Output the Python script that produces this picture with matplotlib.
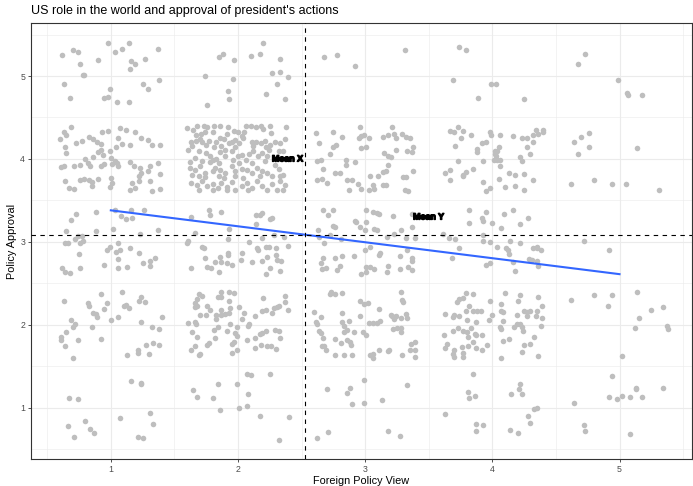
import matplotlib
matplotlib.use("Agg")
import matplotlib.pyplot as plt
import matplotlib.patheffects as pe
import numpy as np

# ---------------- data ----------------
title = "US role in the world and approval of president's actions"
x_label = "Foreign Policy View"
y_label = "Policy Approval"
x_ticks = [1, 2, 3, 4, 5]
y_ticks = [1, 2, 3, 4, 5]

# jittered responses, grouped by approval row (approval value ~5,4,3,2,1)
row5 = [(0.62,5.25),(0.70,5.31),(0.74,5.29),(0.76,5.15),(0.78,5.01),(0.79,5.01),(0.63,4.90),(0.68,4.74),
        (0.90,5.19),(0.98,5.40),(1.03,5.29),(0.99,4.84),(0.95,4.73),(0.98,4.75),(1.05,4.69),(1.09,5.33),
        (1.14,5.40),(1.16,5.18),(1.19,5.15),(1.15,5.09),(1.27,5.21),(1.37,5.33),(1.25,4.90),(1.29,4.84),
        (1.38,4.95),(1.14,4.69),
        (1.85,5.23),(1.88,5.26),(1.97,5.19),(1.74,5.00),(1.96,4.97),(1.92,4.82),(1.93,4.72),(1.76,4.65),
        (2.10,5.24),(2.17,5.26),(2.20,5.40),(2.33,5.20),(2.27,5.04),(2.33,5.05),(2.39,4.99),(2.31,4.90),
        (2.22,4.78),(2.37,4.72),
        (2.68,5.23),(2.78,5.25),(2.92,5.12),(3.31,5.31),
        (3.74,5.35),(3.79,5.31),(3.69,4.95),(3.89,4.73),(3.99,4.90),(4.03,4.91),(4.25,4.72),
        (4.73,5.27),(4.67,5.14),(4.99,4.95),(5.06,4.80),(5.07,4.77),(5.18,4.77)]

row4 = [(0.69,4.39),(0.63,4.32),(0.65,4.29),(0.60,4.24),(0.64,4.15),(0.65,4.07),(0.73,4.19),(0.77,4.22),
        (0.83,4.27),(0.86,4.24),(0.89,4.20),(0.93,4.32),(0.98,4.34),(1.07,4.37),(1.12,4.35),(1.19,4.33),
        (1.06,4.25),(1.24,4.25),(1.29,4.23),(1.32,4.17),(1.39,4.17),(1.15,4.17),(1.09,4.18),(1.04,4.15),
        (0.99,4.09),(0.92,4.18),(0.92,4.11),(0.90,4.08),(0.94,4.05),(1.00,4.01),(1.03,3.98),(0.86,4.02),
        (0.82,3.95),(0.84,3.92),(0.80,4.00),(0.76,3.93),(0.71,3.91),(0.61,3.90),(0.63,3.91),(0.92,3.92),
        (0.95,3.94),(1.01,3.94),(1.05,3.95),(1.06,3.92),(1.15,3.96),(1.18,3.91),(1.23,3.89),(1.37,3.95),
        (1.29,3.86),(1.24,3.83),(1.22,3.80),(1.17,3.71),(1.19,3.65),(1.22,3.73),(1.31,3.73),(1.32,3.61),
        (1.39,3.64),(1.39,3.82),(1.31,3.91),(0.64,3.73),(0.67,3.65),(0.71,3.64),(0.76,3.75),(0.79,3.76),
        (0.83,3.74),(0.85,3.72),(0.90,3.76),(1.00,3.77),(1.01,3.71),(0.99,3.66),(0.85,3.67),(1.15,3.63),
        # approval 4, view 2
        (1.60,4.37),(1.65,4.35),(1.68,4.40),(1.73,4.40),(1.76,4.39),(1.81,4.40),(1.86,4.40),(1.92,4.39),
        (1.97,4.34),(2.00,4.33),(2.06,4.40),(2.10,4.40),(2.14,4.39),(2.18,4.40),(2.20,4.36),(2.25,4.40),
        (2.26,4.31),(2.38,4.39),(2.05,4.33),(2.03,4.28),(1.67,4.29),(1.71,4.30),(1.74,4.32),(1.80,4.32),
        (1.91,4.30),(1.63,4.20),(1.67,4.22),(1.70,4.24),(1.72,4.21),(1.77,4.22),(1.83,4.21),(1.86,4.25),
        (1.89,4.24),(1.93,4.19),(1.95,4.21),(1.98,4.23),(2.01,4.19),(2.04,4.25),(2.11,4.20),(2.14,4.21),
        (2.18,4.19),(2.21,4.22),(2.25,4.17),(2.29,4.21),(2.33,4.19),(2.37,4.24),(1.64,4.16),(1.75,4.17),
        (1.81,4.15),(1.87,4.16),(1.98,4.15),(2.12,4.16),(2.22,4.14),(1.61,4.11),(1.69,4.09),(1.75,4.07),
        (1.78,4.03),(1.80,3.99),(1.83,4.00),(1.78,3.96),(1.72,3.97),(1.66,4.01),(1.62,3.96),(1.86,4.08),
        (1.90,4.11),(1.95,4.09),(1.96,3.99),(2.00,4.03),(2.03,4.05),(2.06,3.99),(2.09,4.06),(2.12,4.10),
        (2.16,4.03),(2.19,4.07),(2.23,4.03),(2.21,3.97),(2.11,3.95),(2.01,3.95),(1.90,4.03),(1.85,3.95),
        (2.32,4.10),(2.30,4.00),(2.35,4.09),(2.24,4.11),(1.62,3.89),(1.66,3.87),(1.70,3.91),(1.74,3.83),
        (1.80,3.85),(1.82,3.89),(1.86,3.87),(1.90,3.83),(1.95,3.91),(1.98,3.85),(2.03,3.88),(2.07,3.87),
        (2.11,3.83),(2.15,3.89),(2.19,3.85),(2.23,3.83),(2.32,3.88),(2.35,3.81),(2.29,3.93),(1.64,3.81),
        (1.69,3.79),(1.74,3.78),(1.85,3.79),(1.89,3.77),(1.98,3.79),(2.04,3.77),(2.17,3.79),(2.27,3.79),
        (2.33,3.79),(1.63,3.71),(1.68,3.69),(1.72,3.73),(1.76,3.67),(1.80,3.70),(1.84,3.65),(1.87,3.71),
        (1.91,3.66),(1.95,3.72),(1.98,3.63),(2.03,3.67),(2.07,3.71),(2.11,3.65),(2.15,3.73),(2.19,3.67),
        (2.23,3.63),(2.27,3.70),(2.31,3.63),(2.35,3.63),(2.37,3.69),(1.69,3.63),(1.80,3.63),(1.91,3.62),
        (2.08,3.62),(2.33,3.73),
        # approval 4, view 3
        (2.61,4.31),(2.64,4.19),(2.75,4.33),(2.82,4.27),(2.96,4.39),(2.97,4.28),(2.99,4.29),(3.03,4.25),
        (2.95,4.25),(2.97,4.13),(3.01,4.14),(2.77,4.17),(2.75,4.15),(2.72,4.06),(2.85,3.99),(2.85,3.93),
        (2.92,3.96),(2.67,3.88),(2.62,3.98),(2.65,3.99),(2.76,3.83),(2.80,3.83),(2.62,3.75),(2.66,3.76),
        (2.70,3.71),(2.86,3.74),(2.90,3.74),(2.87,3.63),(2.94,3.70),(2.97,3.64),(3.03,3.62),(3.04,3.79),
        (3.07,3.64),(3.06,3.69),(3.10,3.80),(3.14,3.84),(3.16,3.86),(3.18,3.93),(3.14,3.68),(3.16,3.69),
        (3.21,4.39),(3.18,4.29),(3.14,4.26),(3.23,4.30),(3.24,4.25),(3.29,4.30),(3.32,4.27),(3.35,4.25),
        (3.38,4.15),(3.37,4.08),(3.33,4.10),(3.24,4.11),(3.15,4.07),(3.18,4.04),(3.20,4.02),(3.30,3.78),
        (3.32,3.78),(3.31,3.62),(3.34,3.61),(3.38,3.86),
        # approval 4, view 4
        (3.67,4.34),(3.70,4.32),(3.73,4.38),(3.77,4.34),(3.83,4.29),(3.75,4.25),(3.71,4.16),(3.73,3.98),
        (3.63,3.83),(3.67,3.87),(3.67,3.74),(3.77,3.79),(3.79,3.84),(3.77,3.81),(3.85,3.88),(3.88,4.12),
        (3.88,4.08),(3.92,4.19),(3.95,4.20),(3.98,4.33),(3.99,4.29),(4.06,4.29),(4.05,4.15),(4.02,4.09),
        (4.02,4.06),(4.04,4.09),(4.01,3.99),(4.04,3.99),(4.06,3.99),(3.93,3.97),(4.03,4.04),(4.06,3.91),
        (3.93,3.72),(3.95,3.61),(3.98,3.65),(4.05,3.76),(4.10,3.66),(4.13,3.83),(4.18,3.67),(4.18,3.81),
        (4.25,3.82),(4.25,3.63),(4.32,3.75),(4.23,4.25),(4.27,4.25),(4.16,4.28),(4.27,4.15),(4.32,4.20),
        (4.32,4.29),(4.34,4.35),(4.36,4.30),(4.40,4.35),(4.40,4.32),(4.30,4.06),(4.22,4.02),(4.23,3.97),
        # approval 4, view 5
        (4.64,4.21),(4.70,4.27),(4.76,4.31),(4.76,4.14),(4.67,4.06),(5.14,4.13),(4.62,3.70),(4.80,3.75),
        (4.94,3.70),(5.05,3.70),(5.31,3.63)]

row3 = [(0.73,3.34),(0.69,3.26),(0.65,3.13),(0.64,2.98),(0.66,2.99),(0.72,3.04),(0.74,3.07),(0.77,3.07),
        (0.78,3.01),(0.76,2.98),(0.75,2.85),(0.62,2.69),(0.64,2.63),(0.68,2.62),(0.76,2.68),(0.88,3.36),
        (0.88,3.13),(1.02,3.16),(1.03,3.39),(1.08,3.31),(1.12,3.27),(1.16,3.39),(1.17,3.29),(1.26,3.39),
        (1.23,3.10),(1.37,3.14),(1.06,2.98),(1.07,2.90),(1.04,2.88),(0.99,2.94),(0.97,2.90),(1.15,2.92),
        (1.22,2.87),(1.25,2.75),(1.31,2.77),(1.35,2.81),(1.31,2.71),(1.13,2.70),(1.06,2.79),(1.06,2.69),
        (0.95,2.72),
        (1.77,3.39),(1.78,3.32),(1.87,3.36),(1.63,3.30),(1.66,3.11),(1.61,3.01),(1.60,2.99),(1.72,2.94),
        (1.73,2.92),(1.74,2.80),(1.76,2.70),(1.79,2.69),(1.82,2.76),(1.85,2.64),(1.86,2.82),(1.87,2.76),
        (1.91,2.75),(1.92,2.86),(1.92,2.84),(1.95,2.72),(1.93,3.15),(1.92,3.03),(2.03,2.86),(2.02,2.78),
        (2.09,3.00),(2.11,2.76),(2.15,2.92),(2.16,2.90),(2.19,2.77),(2.22,2.94),(2.24,2.94),(2.23,2.82),
        (2.25,2.69),(2.22,2.61),(2.30,2.93),(2.30,2.84),(2.31,2.78),(2.34,2.77),(2.33,2.65),(2.39,2.95),
        (2.19,3.05),(2.28,3.08),(2.36,3.06),(2.14,3.21),(2.14,3.32),(2.17,3.32),(2.19,3.35),(2.25,3.27),
        (2.27,3.29),(1.63,2.69),
        (2.67,3.38),(2.75,3.39),(2.71,3.32),(2.63,3.14),(2.64,3.06),(2.68,2.98),(2.72,3.08),(2.75,3.19),
        (2.76,3.18),(2.81,3.04),(2.92,3.25),(2.93,3.24),(2.96,3.18),(3.00,3.14),(3.01,3.24),(3.01,3.39),
        (3.06,3.36),(3.09,3.35),(3.11,3.33),(3.07,3.16),(3.09,3.14),(3.22,3.31),(3.17,3.06),(3.23,3.09),
        (3.28,3.14),(3.32,3.05),(3.37,3.33),(3.37,3.18),(3.39,3.05),(3.33,2.90),(2.67,2.81),(2.65,2.74),
        (2.66,2.67),(2.69,2.69),(2.76,2.80),(2.82,2.83),(2.78,2.66),(2.80,2.71),(2.91,2.83),(3.00,2.90),
        (3.04,2.94),(3.12,2.86),(3.11,2.84),(2.97,2.61),(3.01,2.63),(3.01,2.70),(3.04,2.70),(3.07,2.67),
        (3.18,2.71),(3.17,2.64),(3.27,2.67),(3.27,2.83),(3.34,2.70),(3.37,2.77),(3.37,2.80),(3.37,2.66),
        (3.61,3.09),(3.66,3.05),(3.71,3.04),(3.68,2.80),(3.74,2.92),(3.82,3.39),(3.82,3.23),(3.95,3.36),
        (3.92,3.29),(3.93,3.25),(4.00,3.23),(4.09,3.33),(4.16,3.38),(4.28,3.29),(4.22,3.21),(4.07,3.17),
        (3.93,3.08),(3.93,3.01),(3.98,3.00),(4.04,2.94),(4.11,2.93),(4.12,2.90),(4.13,2.85),(4.14,3.01),
        (4.22,2.99),(4.32,2.92),(4.35,2.94),(4.35,2.92),(4.38,2.90),(4.29,2.79),(4.31,2.78),(4.35,2.77),
        (4.36,2.71),(4.16,2.76),(4.18,2.65),(3.95,2.72),(3.98,2.74),
        (4.72,3.01),(4.92,2.90)]

row2 = [(0.63,2.29),(0.82,2.26),(0.83,2.23),(0.92,2.37),(0.97,2.26),(0.95,2.19),(0.86,2.14),(0.88,2.13),
        (0.89,2.09),(0.69,2.06),(0.72,2.01),(0.70,1.97),(0.65,1.91),(0.61,1.85),(0.61,1.82),(0.64,1.74),
        (0.74,1.82),(0.85,1.97),(0.92,1.83),(0.70,1.60),(1.00,2.06),(1.06,2.09),(1.09,2.39),(1.10,2.23),
        (1.12,2.24),(1.14,2.20),(1.22,2.29),(1.24,2.33),(1.27,2.28),(1.24,2.03),(1.32,1.97),(1.38,1.95),
        (1.40,2.09),(1.13,1.64),(1.21,1.70),(1.21,1.66),(1.30,1.65),(1.28,1.76),(1.33,1.78),(1.38,1.75),
        (1.69,2.37),(1.72,2.35),(1.68,2.31),(1.66,2.26),(1.66,2.21),(1.68,2.23),(1.70,2.12),(1.75,2.12),
        (1.76,2.22),(1.78,2.18),(1.83,2.12),(1.84,2.33),(1.87,2.39),(1.87,2.34),(1.93,2.39),(1.97,2.38),
        (1.93,2.29),(1.94,2.20),(1.93,2.14),(1.90,2.13),(1.87,2.18),(2.01,2.21),(2.05,2.14),(2.03,2.07),
        (2.13,2.11),(2.19,2.16),(2.22,2.18),(2.20,2.32),(2.28,2.20),(2.31,2.21),(2.32,2.22),(2.37,2.35),
        (2.37,2.28),(2.39,2.18),(2.27,2.14),(1.61,2.02),(1.66,2.03),(1.67,2.01),(1.64,1.91),(1.68,1.85),
        (1.66,1.74),(1.63,1.69),(1.69,1.64),(1.70,1.65),(1.76,1.76),(1.77,1.78),(1.82,1.84),(1.81,1.94),
        (1.84,1.97),(1.91,1.93),(1.94,2.01),(1.98,1.90),(1.99,1.86),(1.97,1.79),(1.95,1.77),(1.99,1.69),
        (1.95,1.66),(1.83,2.07),(1.87,2.12),(2.09,2.01),(2.08,1.99),(2.07,1.81),(2.13,1.84),(2.13,1.72),
        (2.18,1.76),(2.19,1.90),(2.22,1.92),(2.17,1.89),(2.23,1.74),(2.26,1.74),(2.30,1.71),(2.29,1.94),
        (2.32,1.92),(2.33,1.84),(1.99,1.97),
        (2.60,2.15),(2.61,2.03),(2.62,2.01),(2.65,2.09),(2.64,1.92),(2.65,1.90),(2.67,1.84),(2.66,1.74),
        (2.69,1.69),(2.68,1.74),(2.72,2.37),(2.73,2.39),(2.76,2.37),(2.82,2.38),(2.76,1.63),(2.76,1.83),
        (2.81,1.78),(2.83,1.63),(2.82,2.14),(2.82,2.03),(2.83,1.98),(2.83,1.91),(2.86,1.94),(2.87,2.05),
        (2.86,1.81),(2.88,1.79),(2.89,1.75),(2.90,1.64),(2.91,1.91),(2.96,2.29),(2.99,2.25),(3.02,2.26),
        (2.96,2.10),(2.98,1.91),(3.01,1.88),(3.03,2.02),(3.06,2.02),(3.09,2.02),(3.12,2.04),(3.11,2.19),
        (3.04,1.63),(3.06,1.65),(3.06,1.60),(3.11,1.69),(3.18,1.68),(3.19,1.69),(3.20,2.12),(3.21,2.10),
        (3.24,2.11),(3.23,2.07),(3.28,2.08),(3.32,2.13),(3.33,2.08),(3.28,2.40),(3.29,2.30),(3.30,2.28),
        (3.22,1.95),(3.25,1.96),(3.28,1.96),(3.28,1.91),(3.29,1.64),(3.35,1.69),(3.36,1.77),(3.39,1.79),
        (3.39,1.69),(3.39,1.61),
        (3.63,2.13),(3.70,2.12),(3.69,2.09),(3.74,2.10),(3.72,2.28),(3.74,2.31),(3.77,2.32),(3.79,2.38),
        (3.85,2.37),(3.82,2.22),(3.85,2.16),(3.79,2.17),(3.88,2.16),(3.91,2.16),(3.80,2.06),(3.87,2.03),
        (3.69,1.93),(3.73,1.96),(3.77,1.92),(3.80,1.91),(3.83,1.96),(3.81,1.85),(3.86,1.89),(3.87,1.88),
        (3.92,1.88),(3.85,1.79),(3.81,1.74),(3.87,1.72),(3.92,1.69),(3.96,1.75),(3.62,1.87),(3.64,1.77),
        (3.63,1.72),(3.70,1.69),(3.69,1.65),(3.70,1.61),(3.76,1.73),(3.77,1.66),(3.77,1.61),(3.97,2.06),
        (4.00,2.12),(3.98,2.29),(4.07,2.25),(4.07,2.16),(4.08,2.15),(4.08,2.05),(4.06,1.97),(4.07,1.95),
        (4.10,2.38),(4.20,2.29),(4.22,2.36),(4.36,2.34),(4.39,2.22),(4.30,2.17),(4.27,2.15),(4.25,2.16),
        (4.35,2.17),(4.19,2.12),(4.27,2.10),(4.34,2.10),(4.39,2.08),(4.17,1.97),(4.19,2.01),(4.22,2.01),
        (4.23,1.97),(4.24,1.92),(4.38,1.99),(4.33,1.85),(4.30,1.77),(4.25,1.76),(4.23,1.67),(4.13,1.83),
        (4.08,1.80),(4.07,1.60),(4.36,1.62),
        (4.62,2.30),(4.80,2.36),(4.94,2.36),(4.91,2.22),(5.14,2.39),(5.25,2.18),(5.34,2.21),(5.15,2.08),
        (5.12,1.96),(5.37,1.99),(5.38,1.95),(5.02,1.62)]

row1 = [(0.67,1.12),(0.74,1.10),(0.66,0.78),(0.71,0.65),(0.80,0.84),(0.84,0.74),(0.87,0.69),(1.16,1.32),
        (1.24,1.30),(1.24,1.28),(1.07,0.87),(1.21,0.64),(1.25,0.63),(1.31,0.93),(1.33,0.80),
        (1.65,1.21),(1.68,1.13),(1.80,1.11),(1.84,1.28),(1.86,0.97),(1.99,1.28),(2.01,0.99),(2.07,1.02),
        (2.08,1.16),(2.07,1.40),(2.10,1.39),(2.25,1.40),(2.17,0.90),(2.32,0.61),(2.40,0.89),
        (2.70,1.22),(2.86,1.18),(2.88,1.24),(2.99,1.33),(2.90,1.04),(2.99,1.05),(3.13,1.09),(3.33,1.27),
        (2.62,0.63),(2.71,0.71),(3.18,0.72),(3.27,0.66),
        (3.85,1.40),(3.81,1.19),(3.86,1.14),(3.82,1.11),(3.63,0.92),(3.87,0.80),(3.93,0.79),(3.87,0.72),
        (4.14,0.73),(4.20,0.69),(4.15,1.16),(4.22,1.28),(4.21,1.23),(4.23,1.17),(4.28,0.90),(4.30,0.82),
        (4.33,0.98),(4.35,1.00),
        (4.94,1.38),(4.92,1.13),(4.98,1.10),(5.02,1.14),(5.08,1.13),(5.13,1.24),(5.13,1.22),(5.18,1.13),
        (5.34,1.24),(4.64,1.05),(4.72,0.79),(4.73,0.72),(5.08,0.68)]

# reference lines and linear fit
mean_x = 2.53
mean_y = 3.08
fit_x = [1, 5]
fit_y = [3.38, 2.61]

# ---------------- drawing ----------------
W, H = 693, 486
fig = plt.figure(figsize=(W / 100, H / 100), dpi=100)
plt.rcParams['font.family'] = ['Liberation Sans', 'DejaVu Sans']

left, right, top, bottom = 30.7, 692.0, 23.0, 459.0
ax = fig.add_axes([left / W, 1 - bottom / H, (right - left) / W, (bottom - top) / H])

pts = np.array(row5 + row4 + row3 + row2 + row1)
ax.scatter(pts[:, 0], pts[:, 1], s=16, color='#BEBEBE', linewidths=0, zorder=2)

ax.plot(fit_x, fit_y, color='#3366FF', lw=1.5, zorder=3)
ax.axvline(mean_x, color='black', lw=0.8, ls=(0, (4, 4)), zorder=4)
ax.axhline(mean_y, color='black', lw=0.8, ls=(0, (4, 4)), zorder=4)

lab_fx = dict(fontsize=6.4, fontweight='bold', color='black', ha='center', va='center', zorder=5,
              path_effects=[pe.withStroke(linewidth=1.0, foreground='black')])
ax.text(mean_x - 0.14, 4.0, "Mean X", **lab_fx)
ax.text(3.5, 3.3, "Mean Y", **lab_fx)

ax.set_xlim(0.37, 5.57)
ax.set_ylim(0.38, 5.64)
ax.set_xticks(x_ticks)
ax.set_yticks(y_ticks)
ax.set_xticks(np.arange(0.5, 5.6, 0.5), minor=True)
ax.set_yticks(np.arange(0.5, 5.6, 0.5), minor=True)
ax.grid(True, which='major', color='#EBEBEB', lw=0.8, zorder=0)
ax.grid(True, which='minor', color='#EBEBEB', lw=0.4, zorder=0)
ax.set_axisbelow(True)
ax.tick_params(which='minor', length=0)
ax.tick_params(which='major', length=2.5, width=0.6, color='#333333',
               labelsize=6.3, labelcolor='#4D4D4D', pad=1.5)
for s in ax.spines.values():
    s.set_color('#333333')
    s.set_linewidth(0.8)

ax.set_xlabel(x_label, fontsize=7.8, color='black', labelpad=1.5)
ax.set_ylabel(y_label, fontsize=7.8, color='black', labelpad=2.5)
fig.text(left / W, 1 - 11 / H, title, fontsize=9, ha='left', va='center')

fig.savefig("out.png", dpi=100)
